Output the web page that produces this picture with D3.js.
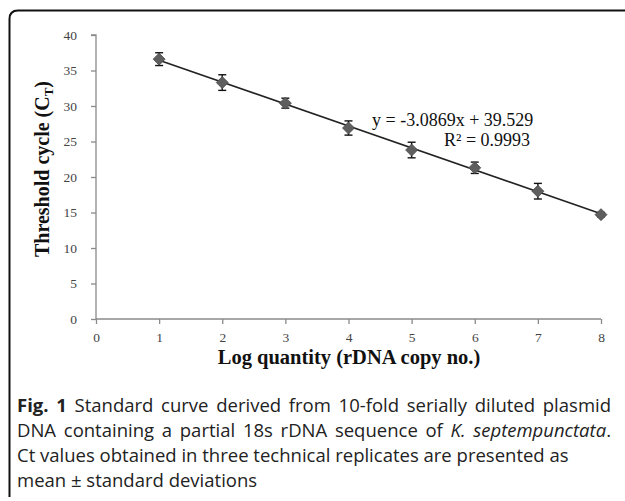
<!DOCTYPE html>
<html>
<head>
<meta charset="utf-8">
<script src="https://cdn.jsdelivr.net/npm/d3@7"></script>
<style>
  html, body { margin: 0; padding: 0; background: #fff; }
  svg { display: block; }
</style>
</head>
<body>
<svg id="chart" width="625" height="501"></svg>
<script>
// ---- data ----
const logQuantity = [1, 2, 3, 4, 5, 6, 7, 8];
const ctMean = [36.6, 33.3, 30.4, 26.9, 23.8, 21.3, 18.0, 14.7];
const ctSD = [0.9, 1.1, 0.7, 1.0, 1.1, 0.8, 1.1, 0.3];
const xTicks = [0, 1, 2, 3, 4, 5, 6, 7, 8];
const yTicks = [0, 5, 10, 15, 20, 25, 30, 35, 40];
const fitSlope = -3.0869;
const fitIntercept = 39.529;
const equationText = "y = -3.0869x + 39.529";
const r2Text = "R² = 0.9993";
const captionLines = [
  [{t: "Fig. 1", b: true}, {t: " Standard curve derived from 10-fold serially diluted plasmid"}],
  [{t: "DNA containing a partial 18s rDNA sequence of "}, {t: "K. septempunctata", i: true}, {t: "."}],
  [{t: "Ct values obtained in three technical replicates are presented as"}],
  [{t: "mean ± standard deviations"}]
];
const captionLineEnds = [611, 611, null, null];

const svg = d3.select("#chart");

// frame
svg.append("path")
  .attr("d", "M9.5,497 L9.5,19 Q9.5,10.5 18,10.5 L630,10.5")
  .attr("fill", "none").attr("stroke", "#111").attr("stroke-width", 2);

const x = d3.scaleLinear().domain([0, 8]).range([96, 601]);
const y = d3.scaleLinear().domain([0, 40]).range([319, 35]);

const axisColor = "#8a8a8a";
const tickFont = "'Liberation Serif', 'Times New Roman', serif";

// y axis
const gy = svg.append("g").attr("transform", `translate(${x(0)},0)`)
  .call(d3.axisLeft(y).tickValues(yTicks).tickSize(5).tickPadding(14).tickFormat(d3.format("d")));
// x axis
const gx = svg.append("g").attr("transform", `translate(0,${y(0)})`)
  .call(d3.axisBottom(x).tickValues(xTicks).tickSize(5).tickPadding(8).tickFormat(d3.format("d")));

[gx, gy].forEach(g => {
  g.select(".domain").attr("stroke", axisColor).attr("stroke-width", 1.3);
  g.selectAll(".tick line").attr("stroke", axisColor).attr("stroke-width", 1.3);
  g.selectAll(".tick text").attr("fill", "#444").style("font-family", tickFont).style("font-size", "13.5px");
});
gy.select(".domain").attr("d", `M-5,${y(40)}H0V${y(0)}`);
gx.select(".domain").attr("d", `M${x(0)},0H${x(8)}`);

// trend line
svg.append("line")
  .attr("x1", x(1)).attr("y1", y(fitSlope * 1 + fitIntercept))
  .attr("x2", x(8)).attr("y2", y(fitSlope * 8 + fitIntercept))
  .attr("stroke", "#222").attr("stroke-width", 1.6);

// error bars
const eb = svg.append("g").attr("stroke", "#111").attr("stroke-width", 1.4);
logQuantity.forEach((q, i) => {
  const cx = x(q);
  const top = y(ctMean[i] + ctSD[i]);
  const bot = y(ctMean[i] - ctSD[i]);
  eb.append("line").attr("x1", cx).attr("x2", cx).attr("y1", top).attr("y2", bot);
  eb.append("line").attr("x1", cx - 4).attr("x2", cx + 4).attr("y1", top).attr("y2", top);
  eb.append("line").attr("x1", cx - 4).attr("x2", cx + 4).attr("y1", bot).attr("y2", bot);
});

// markers
svg.append("g").selectAll("path").data(logQuantity).join("path")
  .attr("transform", (d, i) => `translate(${x(d)},${y(ctMean[i])})`)
  .attr("d", "M0,-6 L6,0 L0,6 L-6,0 Z")
  .attr("fill", "#5e5e5e").attr("stroke", "#4a4a4a").attr("stroke-width", 0.8);

// equation
svg.append("text").attr("x", 372).attr("y", 126)
  .style("font-family", tickFont).style("font-size", "18px").attr("fill", "#111")
  .text(equationText);
svg.append("text").attr("x", 444).attr("y", 146)
  .style("font-family", tickFont).style("font-size", "18px").attr("fill", "#111")
  .text(r2Text);

// axis titles
const yt = svg.append("text")
  .attr("transform", `translate(49,${(y(0) + y(40)) / 2 - 8}) rotate(-90)`)
  .attr("text-anchor", "middle")
  .style("font-family", tickFont).style("font-size", "20px").style("font-weight", "bold").attr("fill", "#111");
yt.append("tspan").text("Threshold cycle (C");
yt.append("tspan").attr("dy", 4).style("font-size", "13px").text("T");
yt.append("tspan").attr("dy", -4).text(")");

svg.append("text").attr("x", 349).attr("y", 364).attr("text-anchor", "middle")
  .style("font-family", tickFont).style("font-size", "20.5px").style("font-weight", "bold").attr("fill", "#111")
  .text("Log quantity (rDNA copy no.)");

// caption
const capFont = "'Open Sans', 'Noto Sans', sans-serif";
const capX = 17;
captionLines.forEach((line, li) => {
  const t = svg.append("text").attr("x", capX).attr("y", 412 + li * 25)
    .style("font-family", capFont).style("font-size", "18.5px").attr("fill", "#222");
  line.forEach(seg => {
    const s = t.append("tspan").text(seg.t);
    if (seg.b) s.style("font-weight", "bold");
    if (seg.i) s.style("font-style", "italic");
  });
  const target = captionLineEnds[li];
  if (target) {
    const w = t.node().getComputedTextLength();
    const spaces = line.map(s => s.t).join("").split(" ").length - 1;
    const extra = (target - capX - w) / spaces;
    if (extra > 0) t.style("word-spacing", extra + "px");
  }
});
</script>
</body>
</html>
